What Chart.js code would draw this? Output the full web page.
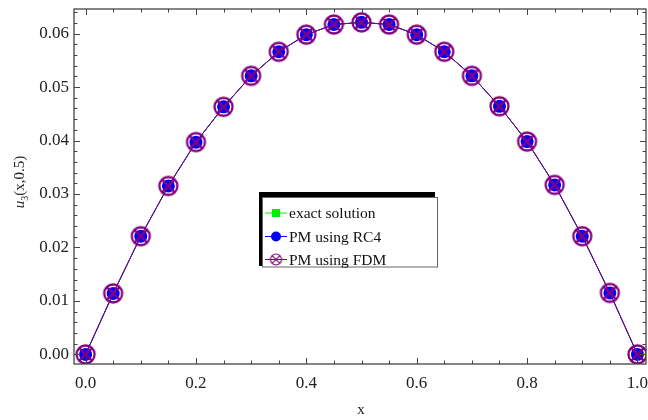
<!DOCTYPE html>
<html>
<head>
<meta charset="utf-8">
<script src="https://cdn.jsdelivr.net/npm/chart.js@4.4.1/dist/chart.umd.min.js"></script>
<style>
    html, body { margin: 0; padding: 0; background: #fff; }
    #wrap { width: 648px; height: 420px; position: relative; }
</style>
</head>
<body>
<div id="wrap"><canvas id="chart"></canvas></div>
<script>
// Data
const xs = [0, 0.05, 0.1, 0.15, 0.2, 0.25, 0.3, 0.35, 0.4, 0.45, 0.5, 0.55, 0.6, 0.65, 0.7, 0.75, 0.8, 0.85, 0.9, 0.95, 1.0];
const exact = [0, 0.0114, 0.0221, 0.0315, 0.0397, 0.0463, 0.0521, 0.0566, 0.0598, 0.0617, 0.0621, 0.0617, 0.0598, 0.0566, 0.0521, 0.0464, 0.0398, 0.0317, 0.0221, 0.0115, 0];
const rc4 = [0, 0.0114, 0.0221, 0.0315, 0.0397, 0.0463, 0.0521, 0.0566, 0.0598, 0.0617, 0.0621, 0.0617, 0.0598, 0.0566, 0.0521, 0.0464, 0.0398, 0.0317, 0.0221, 0.0115, 0];
const fdm = [0, 0.0114, 0.0221, 0.0315, 0.0397, 0.0463, 0.0521, 0.0566, 0.0598, 0.0617, 0.0621, 0.0617, 0.0598, 0.0566, 0.0521, 0.0464, 0.0398, 0.0317, 0.0221, 0.0115, 0];
const seriesNames = ['exact solution', 'PM using RC4', 'PM using FDM'];
const xTickLabels = [0.0, 0.2, 0.4, 0.6, 0.8, 1.0];
const yTickLabels = [0.00, 0.01, 0.02, 0.03, 0.04, 0.05, 0.06];

const GREEN = '#00ee00';
const BLUE = '#0000ff';
const PURPLE = '#820082';
const FRAME = '#444444';
const FONT = '"Liberation Serif", "DejaVu Serif", serif';

// Circle with an X through it, used as point style for the FDM series
function crossedCircle(r, lw, color) {
    const c = document.createElement('canvas');
    const s = Math.ceil(2 * r + lw + 2);
    c.width = s; c.height = s;
    const g = c.getContext('2d');
    const m = s / 2;
    g.strokeStyle = color;
    g.lineWidth = lw;
    g.beginPath();
    g.arc(m, m, r, 0, Math.PI * 2);
    g.stroke();
    const d = r * Math.SQRT1_2;
    g.beginPath();
    g.moveTo(m - d, m - d); g.lineTo(m + d, m + d);
    g.moveTo(m + d, m - d); g.lineTo(m - d, m + d);
    g.stroke();
    return c;
}
const fdmMark = crossedCircle(9, 2.3, PURPLE);
const fdmLegendMark = crossedCircle(5.5, 1.2, PURPLE);

function pts(ys) {
    return xs.map((x, i) => ({ x, y: ys[i] }));
}

// Mathematica-style frame with inward ticks on all four sides
const framePlugin = {
    id: 'frame',
    afterDatasetsDraw(chart) {
        const { ctx, chartArea: a, scales: { x, y } } = chart;
        ctx.save();
        ctx.strokeStyle = FRAME;
        ctx.lineWidth = 1.3;
        ctx.strokeRect(a.left, a.top, a.right - a.left, a.bottom - a.top);
        ctx.lineWidth = 1;
        ctx.beginPath();
        for (let i = 0; i <= 20; i++) {
            const v = i * 0.05;
            const px = Math.round(x.getPixelForValue(v)) + 0.5;
            const len = i % 4 === 0 ? 6 : 3.5;
            ctx.moveTo(px, a.bottom); ctx.lineTo(px, a.bottom - len);
            ctx.moveTo(px, a.top); ctx.lineTo(px, a.top + len);
        }
        for (let i = 0; i <= 32; i++) {
            const v = i * 0.002;
            if (v > y.max) break;
            const py = Math.round(y.getPixelForValue(v)) + 0.5;
            const len = i % 5 === 0 ? 6 : 3.5;
            ctx.moveTo(a.left, py); ctx.lineTo(a.left + len, py);
            ctx.moveTo(a.right, py); ctx.lineTo(a.right - len, py);
        }
        ctx.stroke();

        // axis titles
        ctx.fillStyle = '#222';
        ctx.textBaseline = 'alphabetic';
        ctx.font = '15px ' + FONT;
        ctx.textAlign = 'center';
        ctx.fillText('x', (a.left + a.right) / 2 + 1, 414);

        ctx.translate(24, 182);
        ctx.rotate(-Math.PI / 2);
        ctx.textAlign = 'left';
        const parts = [
            { t: 'u', f: 'italic 15px ' + FONT, dy: 0 },
            { t: '3', f: '10px ' + FONT, dy: 4 },
            { t: '(x,0.5)', f: '15px ' + FONT, dy: 0 }
        ];
        let w = 0;
        parts.forEach(p => { ctx.font = p.f; w += ctx.measureText(p.t).width; });
        let cx = -w / 2;
        parts.forEach(p => {
            ctx.font = p.f;
            ctx.fillText(p.t, cx, p.dy);
            cx += ctx.measureText(p.t).width;
        });
        ctx.restore();
    },
    afterDraw(chart) {
        // legend box with its offset black shadow
        const ctx = chart.ctx;
        ctx.save();
        ctx.fillStyle = '#000';
        ctx.fillRect(259, 192, 176, 74);
        ctx.fillStyle = '#fff';
        ctx.fillRect(262, 197.5, 176, 70);
        ctx.strokeStyle = '#666';
        ctx.lineWidth = 1;
        ctx.strokeRect(262.5, 197.5, 175, 69.5);

        const rows = [213, 236.5, 259.5];
        const colors = [GREEN, BLUE, PURPLE];
        rows.forEach((ry, i) => {
            ctx.strokeStyle = colors[i];
            ctx.lineWidth = 1;
            ctx.beginPath();
            ctx.moveTo(265, ry); ctx.lineTo(287, ry);
            ctx.stroke();
            ctx.fillStyle = colors[i];
            if (i === 0) {
                ctx.fillRect(272, ry - 4, 8, 8);
            } else if (i === 1) {
                ctx.beginPath();
                ctx.arc(276, ry, 5, 0, Math.PI * 2);
                ctx.fill();
            } else {
                ctx.drawImage(fdmLegendMark, 276 - fdmLegendMark.width / 2, ry - fdmLegendMark.height / 2);
            }
            ctx.fillStyle = '#111';
            ctx.font = '15.5px ' + FONT;
            ctx.textAlign = 'left';
            ctx.textBaseline = 'middle';
            ctx.fillText(seriesNames[i], 289, ry + 1);
        });
        ctx.restore();
    }
};

new Chart(document.getElementById('chart'), {
    type: 'scatter',
    data: {
        datasets: [
            {
                label: seriesNames[2],
                data: pts(fdm),
                showLine: true,
                borderColor: PURPLE,
                borderWidth: 1,
                pointStyle: fdmMark,
                order: 1
            },
            {
                label: seriesNames[1],
                data: pts(rc4),
                showLine: true,
                borderColor: BLUE,
                borderWidth: 1,
                backgroundColor: BLUE,
                pointStyle: 'circle',
                pointRadius: 6.5,
                pointBorderWidth: 0,
                order: 2
            },
            {
                label: seriesNames[0],
                data: pts(exact),
                showLine: true,
                borderColor: GREEN,
                borderWidth: 1,
                backgroundColor: GREEN,
                pointStyle: 'rect',
                pointRadius: 7,
                pointBorderWidth: 0,
                order: 3
            }
        ]
    },
    options: {
        responsive: true,
        maintainAspectRatio: false,
        animation: false,
        layout: { autoPadding: false, padding: { top: 9, right: 2, left: 0, bottom: 0 } },
        plugins: { legend: { display: false }, tooltip: { enabled: false } },
        scales: {
            x: {
                type: 'linear',
                min: -0.021,
                max: 1.0155,
                afterFit: s => { s.height = 56; s.paddingLeft = 0; s.paddingRight = 0; },
                afterBuildTicks: s => { s.ticks = xTickLabels.map(v => ({ value: v })); },
                grid: { display: false, drawTicks: false },
                border: { display: false },
                ticks: {
                    color: '#222',
                    font: { family: FONT, size: 17 },
                    padding: 9,
                    maxRotation: 0,
                    callback: v => v.toFixed(1)
                }
            },
            y: {
                type: 'linear',
                min: -0.0018,
                max: 0.0646,
                afterFit: s => { s.width = 74; s.paddingTop = 0; s.paddingBottom = 0; },
                afterBuildTicks: s => { s.ticks = yTickLabels.map(v => ({ value: v })); },
                grid: { display: false, drawTicks: false },
                border: { display: false },
                ticks: {
                    color: '#222',
                    font: { family: FONT, size: 17 },
                    padding: 5,
                    callback: v => v.toFixed(2)
                }
            }
        }
    },
    plugins: [framePlugin]
});
</script>
</body>
</html>
